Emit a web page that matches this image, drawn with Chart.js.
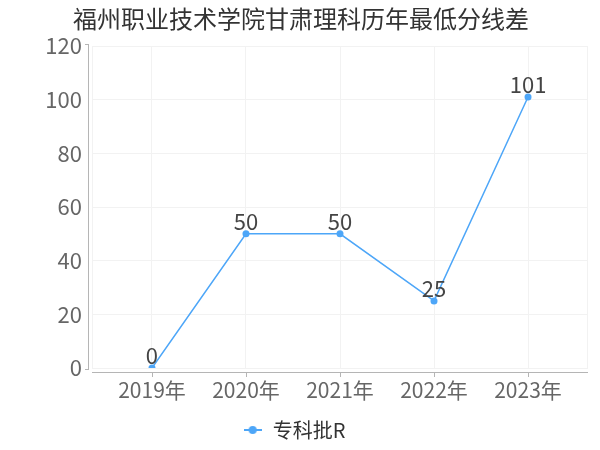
<!DOCTYPE html>
<html><head><meta charset="utf-8">
<script src="https://cdn.jsdelivr.net/npm/chart.js@4"></script>
<style>html,body{margin:0;padding:0;background:#fff}#wrap{width:600px;height:450px}</style>
</head><body><div id="wrap"><canvas id="c" width="600" height="450"></canvas></div>
<script>
const titleText = '福州职业技术学院甘肃理科历年最低分线差';
const categories = ['2019年', '2020年', '2021年', '2022年', '2023年'];
const seriesName = '专科批R';
const seriesValues = [0, 50, 50, 25, 101];
const yTicks = [0, 20, 40, 60, 80, 100, 120];

const FONT = "'Noto Sans CJK SC', 'Noto Sans', sans-serif";
const LINE = '#4da6f8';

const mk = document.createElement('canvas');
mk.width = 18; mk.height = 10;
(function(){const g = mk.getContext('2d');
 g.strokeStyle = LINE; g.lineWidth = 2; g.beginPath(); g.moveTo(0,5); g.lineTo(18,5); g.stroke();
 g.fillStyle = LINE; g.beginPath(); g.arc(9,5,4,0,Math.PI*2); g.fill();})();

const decor = {
  id: 'decor',
  beforeDraw(chart) {
    const {ctx} = chart;
    ctx.save();
    ctx.font = '24px ' + FONT; ctx.fillStyle = '#333';
    ctx.textAlign = 'center'; ctx.textBaseline = 'middle';
    ctx.fillText(titleText, 301, 19);
    ctx.restore();
  },
  beforeDatasetsDraw(chart) {
    const {ctx, chartArea: a, scales} = chart;
    ctx.save();
    ctx.strokeStyle = '#f2f2f2'; ctx.lineWidth = 1;
    ctx.strokeRect(a.left + 0.5, a.top + 0.5, a.right - a.left - 1, a.bottom - a.top);
    ctx.strokeStyle = '#b5b5b5';
    ctx.beginPath();
    ctx.moveTo(a.left - 3.5, a.top - 2); ctx.lineTo(a.left - 3.5, a.bottom + 2);
    ctx.moveTo(a.left - 7, a.top - 1.5); ctx.lineTo(a.left - 3.5, a.top - 1.5);
    ctx.moveTo(a.left - 7, a.bottom + 1.5); ctx.lineTo(a.left - 3.5, a.bottom + 1.5);
    ctx.moveTo(a.left, a.bottom + 4.5); ctx.lineTo(a.right, a.bottom + 4.5);
    categories.forEach((c, i) => {
      const x = Math.round(scales.x.getPixelForValue(i)) + 0.5;
      ctx.moveTo(x, a.bottom + 4.5); ctx.lineTo(x, a.bottom + 9);
    });
    ctx.stroke();
    ctx.restore();
  },
  afterDatasetsDraw(chart) {
    const {ctx} = chart;
    const meta = chart.getDatasetMeta(0);
    ctx.save();
    ctx.font = '22px ' + FONT; ctx.fillStyle = '#444';
    ctx.textAlign = 'center'; ctx.textBaseline = 'alphabetic';
    meta.data.forEach((p, i) => {
      ctx.fillText(String(seriesValues[i]), p.x, p.y - 4);
    });
    ctx.restore();
  }
};

new Chart(document.getElementById('c'), {
  type: 'line',
  data: {
    datasets: [{
      label: seriesName,
      data: seriesValues.map((v, i) => ({x: i, y: v})),
      borderColor: LINE, backgroundColor: LINE,
      borderWidth: 1.5, pointRadius: 3.5, pointHoverRadius: 3.5,
      pointBackgroundColor: LINE, pointBorderWidth: 0,
      pointStyle: 'circle', tension: 0
    }]
  },
  options: {
    responsive: false, animation: false,
    layout: {padding: {left: 0, right: 12, top: 46, bottom: 0}},
    plugins: {
      title: {display: false},
      legend: {display: true, position: 'bottom',
        labels: {usePointStyle: true, pointStyle: mk, color: '#333',
          font: {family: FONT, size: 20}, padding: 10}},
      tooltip: {enabled: false}
    },
    scales: {
      x: {type: 'linear', min: -0.638, max: 4.638,
        afterBuildTicks(s) { s.ticks = categories.map((c, i) => ({value: i})); },
        afterFit(s) { s.height = 42; },
        ticks: {callback: (v) => categories[v], color: '#666', padding: 9,
          font: {family: FONT, size: 21}, maxRotation: 0, autoSkip: false},
        grid: {color: '#f2f2f2', drawTicks: false}, border: {display: false}
      },
      y: {min: 0, max: 120,
        afterBuildTicks(s) { s.ticks = yTicks.map(v => ({value: v})); },
        afterFit(s) { s.width = 92; },
        ticks: {color: '#666', padding: 10, font: {family: FONT, size: 22}},
        grid: {color: '#f2f2f2', drawTicks: false}, border: {display: false}
      }
    }
  },
  plugins: [decor]
});
</script></body></html>
